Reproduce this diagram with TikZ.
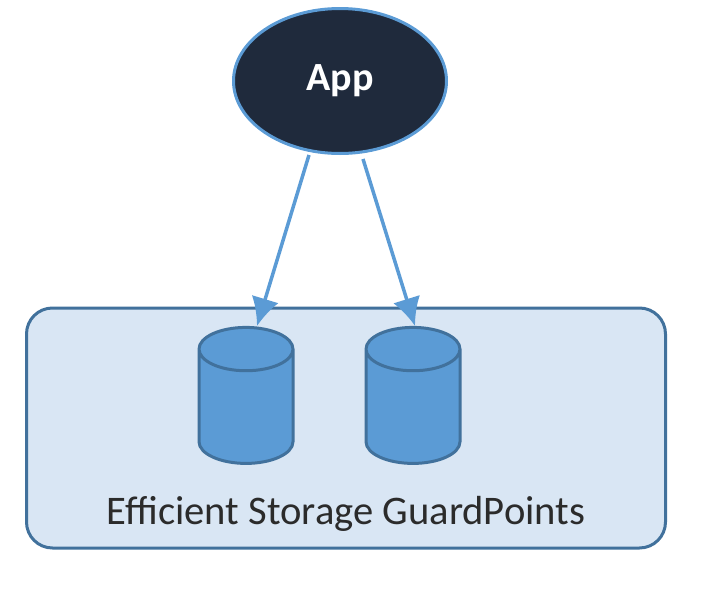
\documentclass[tikz,border=0pt]{standalone}
\usepackage{fontspec}
\setmainfont{Carlito}
\usepackage{xcolor}
\usetikzlibrary{arrows.meta,positioning,shapes.geometric}
\definecolor{edgeblue}{HTML}{41719C}
\definecolor{arrowblue}{HTML}{5B9BD5}
\definecolor{panelblue}{HTML}{D9E6F4}
\definecolor{appdark}{HTML}{1F2A3C}
\definecolor{inkgrey}{HTML}{2B2B2B}
\begin{document}
\begin{tikzpicture}[x=1pt, y=-1pt, panel/.style={draw=edgeblue, line width=3pt, rounded corners=26pt, fill=panelblue, minimum width=639pt, minimum height=240pt}, app/.style={draw=arrowblue, line width=3pt, ellipse, fill=appdark, text=white, minimum width=213pt, minimum height=145pt, font=\bfseries\fontsize{40}{44}\selectfont}, disk/.style={draw=edgeblue, line width=3pt, cylinder, shape border rotate=90, aspect=6.5, fill=arrowblue, minimum width=94pt, minimum height=136pt}, arr/.style={-{Latex[length=28pt,width=28pt]}, draw=arrowblue, line width=3.5pt}]
\useasboundingbox (0,0) rectangle (724,600);
\node[panel] (store) at (346,428) {};
\node[app] (a) at (340,81) {App};
\node[disk] (d1) at (246,411) {};
\node[disk] (d2) at (413,411) {};
\node[font=\fontsize{40.6}{44}\selectfont, text=inkgrey] (lbl) at (346,514) {Efficient Storage GuardPoints};
\coordinate (e1) at (309,155);
\coordinate (e2) at (363,159);
\coordinate (t1) at (257,326);
\coordinate (t2) at (415,326);
\draw[arr] (e1)--(t1);
\draw[arr] (e2)--(t2);
\end{tikzpicture}
\end{document}
